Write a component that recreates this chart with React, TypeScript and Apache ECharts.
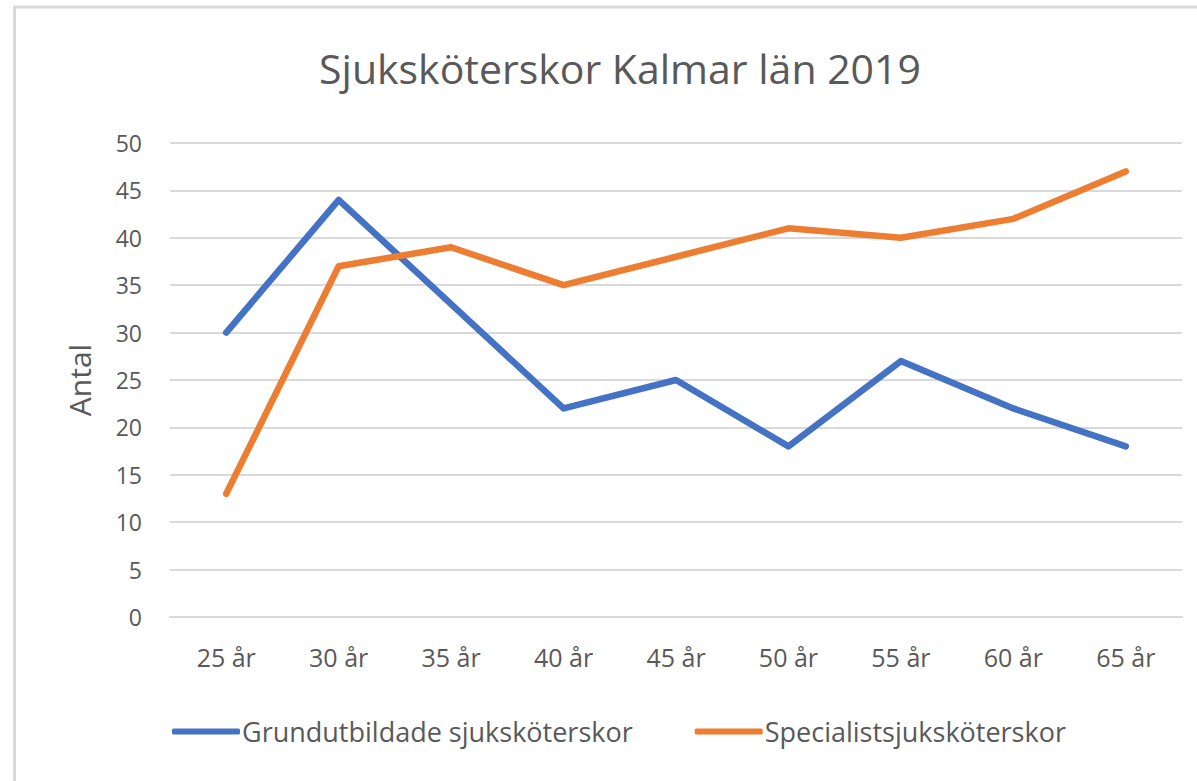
import React, { useEffect, useRef } from "react";
import * as echarts from "echarts";

const categories = ["25 år", "30 år", "35 år", "40 år", "45 år", "50 år", "55 år", "60 år", "65 år"];
const grundutbildade = [30, 44, 33, 22, 25, 18, 27, 22, 18];
const specialist = [13, 37, 39, 35, 38, 41, 40, 42, 47];
const seriesNames = ["Grundutbildade sjuksköterskor", "Specialistsjuksköterskor"];
const titleText = "Sjuksköterskor Kalmar län 2019";
const yAxisName = "Antal";

export default function App() {
  const ref = useRef<HTMLDivElement>(null);
  useEffect(() => {
    document.body.style.margin = "0";
    const chart = echarts.init(ref.current!, null, { renderer: "svg" });
    const font = "'Open Sans', sans-serif";
    chart.setOption({
      animation: false,
      backgroundColor: "#ffffff",
      textStyle: { fontFamily: font },
      title: {
        text: titleText,
        left: 615,
        top: 42,
        textAlign: "center",
        textStyle: { fontSize: 41, fontWeight: "normal", color: "#595959", fontFamily: font },
      },
      graphic: [
        {
          type: "rect",
          shape: { x: 14.5, y: 7, width: 1400, height: 1000 },
          style: { fill: "none", stroke: "#d9d9d9", lineWidth: 3 },
          silent: true,
        },
      ],
      legend: {
        data: seriesNames,
        left: 167,
        top: 713,
        itemWidth: 68,
        itemHeight: 6,
        itemGap: 62,
        icon: "roundRect",
        textStyle: { fontSize: 27, color: "#595959", fontFamily: font, padding: [0, 0, 0, -3] },
      },
      grid: { left: 170, right: 15, top: 143, bottom: 164, containLabel: false },
      xAxis: {
        type: "category",
        data: categories,
        boundaryGap: true,
        axisLine: { show: true, lineStyle: { color: "#d9d9d9", width: 2 } },
        axisTick: { show: false },
        axisLabel: { fontSize: 25, color: "#595959", margin: 27, fontFamily: font },
      },
      yAxis: {
        type: "value",
        min: 0,
        max: 50,
        interval: 5,
        name: yAxisName,
        nameLocation: "middle",
        nameGap: 76,
        nameTextStyle: { fontSize: 30, color: "#595959", fontFamily: font },
        axisLine: { show: false },
        axisTick: { show: false },
        axisLabel: { fontSize: 23, color: "#595959", margin: 28, fontFamily: font },
        splitLine: { lineStyle: { color: "#d9d9d9", width: 2 } },
      },
      series: [
        {
          name: seriesNames[0],
          type: "line",
          data: grundutbildade,
          showSymbol: false,
          symbol: "none",
          lineStyle: { color: "#4472C4", width: 6.5, cap: "round", join: "round" },
          itemStyle: { color: "#4472C4" },
        },
        {
          name: seriesNames[1],
          type: "line",
          data: specialist,
          showSymbol: false,
          symbol: "none",
          lineStyle: { color: "#ED7D31", width: 6.5, cap: "round", join: "round" },
          itemStyle: { color: "#ED7D31" },
        },
      ],
    });
    return () => chart.dispose();
  }, []);
  return <div ref={ref} style={{ position: "absolute", left: 0, top: 0, width: 1197, height: 781 }} />;
}
